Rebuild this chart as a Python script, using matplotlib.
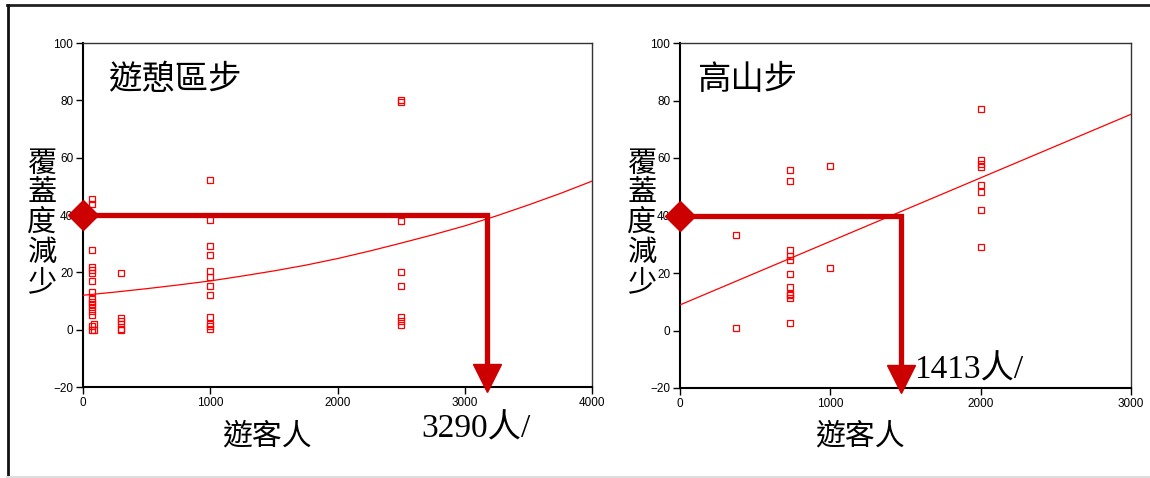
import matplotlib
matplotlib.use("Agg")
import matplotlib.pyplot as plt
import numpy as np

# ---- data ----
left_x = [70] * 16 + [90] * 2 + [300] * 6 + [1000] * 12 + [2500] * 8
left_y = [45.5, 43.8, 27.8, 21.7, 20.9, 19.8, 17.0, 13.3, 10.8, 9.5, 9.0, 7.8, 6.4, 5.0, 1.2, 0.0,
          2.0, 0.0,
          19.8, 4.0, 3.1, 2.0, 0.2, 0.0,
          52.3, 38.1, 29.2, 25.9, 20.5, 18.4, 15.1, 12.2, 4.3, 2.0, 1.2, 0.2,
          80.2, 79.4, 38.0, 20.1, 15.4, 4.4, 3.0, 1.6]
left_fit_x = [0, 250, 500, 750, 1000, 1250, 1500, 1750, 2000, 2250, 2500, 2750,
              3000, 3250, 3500, 3750, 4000]
left_fit_y = [12.0, 13.1, 14.3, 15.6, 17.0, 18.7, 20.5, 22.5, 24.8, 27.4, 30.2, 33.1,
              36.2, 39.7, 43.5, 47.5, 51.8]

right_x = [370] * 2 + [730] * 11 + [1000] * 2 + [2000] * 8
right_y = [33.2, 0.8,
           56.0, 52.0, 27.9, 25.8, 24.4, 19.6, 15.2, 12.8, 12.3, 11.2, 2.6,
           57.1, 21.7,
           77.2, 59.4, 58.0, 56.9, 50.6, 48.1, 42.0, 29.0]
right_fit_x = [0, 3000]
right_fit_y = [8.9, 75.2]

target = 40          # coverage-reduction threshold
left_cross = 3175    # where the red guide drops (left panel)
right_cross = 1470   # where the red guide drops (right panel)
arrow_tip = -17

titles = ["遊憩區步", "高山步"]
cross_labels = ["3290人/", "1413人/"]
ylabel = "覆蓋度減少"
xlabel = "遊客人"

W, H = 1150, 478
fig = plt.figure(figsize=(W / 100, H / 100), dpi=100)

cjk = ["Noto Sans CJK TC", "DejaVu Sans"]
serif = ["Liberation Serif", "Noto Sans CJK TC"]
tick_font = {"family": "Liberation Sans", "size": 8.5}

def px(x, y):
    return x / W, 1 - y / H

guide = "#CC0000"

def panel(rect, xs, ys, fx, fy, xmax, xticks, cross):
    ax = fig.add_axes(rect)
    ax.plot(xs, ys, "s", ms=4.2, mfc="none", mec="red", mew=0.9, zorder=3)
    ax.plot(fx, fy, "-", color="red", lw=0.9, zorder=3)
    ax.plot([0, cross, cross], [target, target, arrow_tip], color=guide, lw=3.8,
            solid_joinstyle="miter", clip_on=False, zorder=4)
    ax.plot([cross], [-16.8], "v", ms=20.5, color=guide, clip_on=False, zorder=5)
    ax.plot([0], [target], "D", ms=15, color=guide, clip_on=False, zorder=5)
    ax.set_xlim(0, xmax)
    ax.set_ylim(-20, 100)
    ax.set_xticks(xticks)
    ax.set_yticks(range(-20, 101, 20))
    ax.tick_params(direction="out", length=5, width=1, pad=2)
    for lab in ax.get_xticklabels() + ax.get_yticklabels():
        lab.set_fontfamily(tick_font["family"])
        lab.set_fontsize(tick_font["size"])
    for s in ["top", "right"]:
        ax.spines[s].set_linewidth(1.0)
        ax.spines[s].set_color("#333333")
    for s in ["left", "bottom"]:
        ax.spines[s].set_linewidth(1.5)
    return ax

panel([83 / W, 1 - 387 / H, 509 / W, 344 / H], left_x, left_y, left_fit_x, left_fit_y,
      4000, [0, 1000, 2000, 3000, 4000], left_cross)
panel([680 / W, 1 - 388 / H, 451 / W, 345 / H], right_x, right_y, right_fit_x, right_fit_y,
      3000, [0, 1000, 2000, 3000], right_cross)

# titles inside the panels
fig.text(*px(108, 80), titles[0], family=cjk, fontsize=24, weight="medium", ha="left", va="center")
fig.text(*px(697, 80), titles[1], family=cjk, fontsize=24, weight="medium", ha="left", va="center")

# stacked vertical y labels
for cx in [42, 642]:
    fig.text(*px(cx, 223), "\n".join(ylabel), family=cjk, fontsize=21, weight="medium",
             ha="center", va="center", linespacing=0.98)

# x labels
fig.text(*px(267, 436), xlabel, family=cjk, fontsize=21.5, weight="medium", ha="center", va="center")
fig.text(*px(860, 436), xlabel, family=cjk, fontsize=21.5, weight="medium", ha="center", va="center")

# crossing values
fig.text(*px(421, 437), cross_labels[0], family=serif, fontsize=24, ha="left", va="baseline")
fig.text(*px(914, 378), cross_labels[1], family=serif, fontsize=24, ha="left", va="baseline")

# outer frame
fig.add_artist(plt.Line2D([7 / W, 1], [1 - 5 / H, 1 - 5 / H], color="#222222", lw=2))
fig.add_artist(plt.Line2D([7.5 / W, 7.5 / W], [0, 1 - 5 / H], color="#111111", lw=2))
fig.add_artist(plt.Line2D([7 / W, 1], [1.5 / H, 1.5 / H], color="#dddddd", lw=1.5))

fig.savefig("out.png", dpi=100)
